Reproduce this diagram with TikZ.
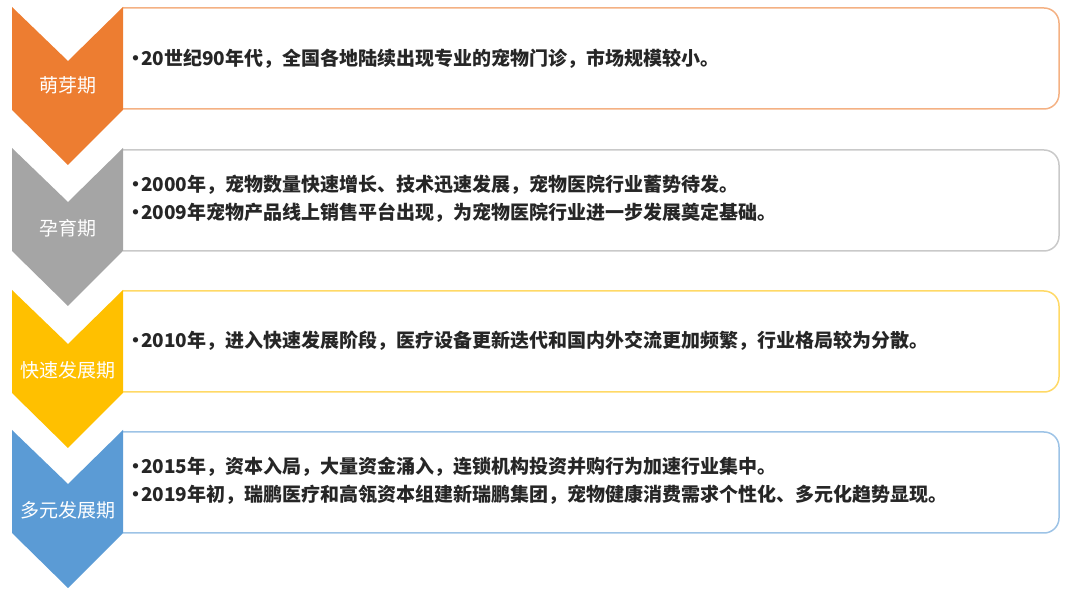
\documentclass[tikz,border=0pt]{standalone}
\usepackage{fontspec}
\newfontfamily\cjk{Noto Sans CJK SC}

\definecolor{sproutFill}{HTML}{ED7D31}
\definecolor{sproutLine}{HTML}{F4B183}
\definecolor{nurtureFill}{HTML}{A5A5A5}
\definecolor{nurtureLine}{HTML}{C9C9C9}
\definecolor{growthFill}{HTML}{FFC000}
\definecolor{growthLine}{HTML}{FFD966}
\definecolor{diverseFill}{HTML}{5B9BD5}
\definecolor{diverseLine}{HTML}{9DC3E6}

\newcommand{\pbullet}{•\kern-4pt}

\begin{document}
\begin{tikzpicture}[x=1pt,y=-1pt,
  stagebox/.style={rounded corners=15pt,line width=1.5pt},
  stagelabel/.style={text=white,inner sep=0pt,font=\cjk\fontsize{19}{24}\selectfont},
  stagetext/.style={anchor=west,align=left,inner sep=0pt,text=black!85,font=\cjk\bfseries\fontsize{19}{28}\selectfont}]
\useasboundingbox (0,0) rectangle (1080,593);

% Stage 1
\draw[stagebox,draw=sproutLine] (123,8) -- (1059,8) -- (1059,109) -- (123,109);
\fill[sproutFill] (12,7) -- (68,61) -- (123,7) -- (123,110) -- (68,165) -- (12,110) -- cycle;
\node[stagelabel] (label1) at (68,85) {萌芽期};
\node[stagetext] (text1) at (126,59) {\pbullet 20世纪90年代，全国各地陆续出现专业的宠物门诊，市场规模较小。};

% Stage 2
\draw[stagebox,draw=nurtureLine] (123,150) -- (1059,150) -- (1059,251) -- (123,251);
\fill[nurtureFill] (12,148) -- (68,202) -- (123,148) -- (123,251) -- (68,306) -- (12,251) -- cycle;
\node[stagelabel] (label2) at (68,228) {孕育期};
\node[stagetext] (text2) at (126,199) {\pbullet 2000年，宠物数量快速增长、技术迅速发展，宠物医院行业蓄势待发。\\
  \pbullet 2009年宠物产品线上销售平台出现，为宠物医院行业进一步发展奠定基础。};

% Stage 3
\draw[stagebox,draw=growthLine] (123,291) -- (1059,291) -- (1059,392) -- (123,392);
\fill[growthFill] (12,290) -- (68,344) -- (123,290) -- (123,393) -- (68,448) -- (12,393) -- cycle;
\node[stagelabel] (label3) at (68,370) {快速发展期};
\node[stagetext] (text3) at (126,341) {\pbullet 2010年，进入快速发展阶段，医疗设备更新迭代和国内外交流更加频繁，行业格局较为分散。};

% Stage 4
\draw[stagebox,draw=diverseLine] (123,432) -- (1059,432) -- (1059,533) -- (123,533);
\fill[diverseFill] (12,430) -- (68,484) -- (123,430) -- (123,533) -- (68,588) -- (12,533) -- cycle;
\node[stagelabel] (label4) at (68,510) {多元发展期};
\node[stagetext] (text4) at (126,481) {\pbullet 2015年，资本入局，大量资金涌入，连锁机构投资并购行为加速行业集中。\\
  \pbullet 2019年初，瑞鹏医疗和高瓴资本组建新瑞鹏集团，宠物健康消费需求个性化、多元化趋势显现。};

\end{tikzpicture}
\end{document}
